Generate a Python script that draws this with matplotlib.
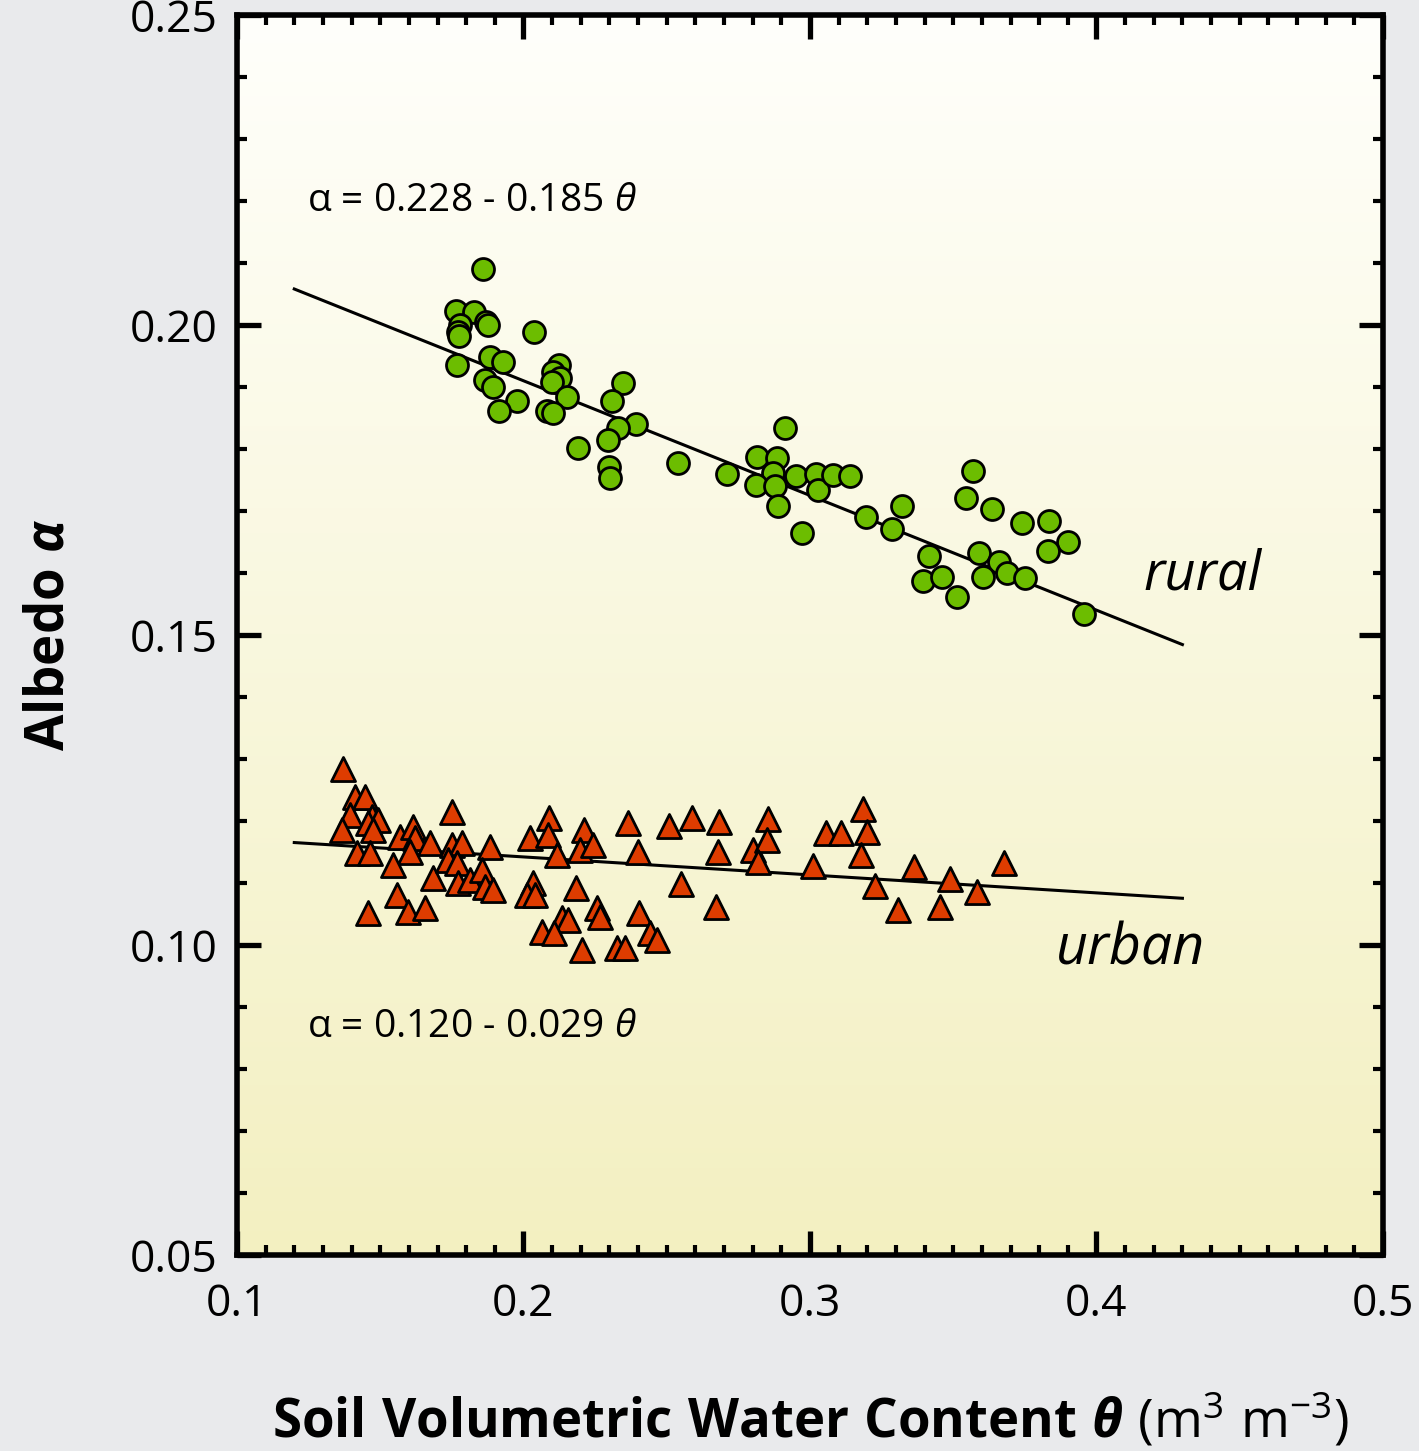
import numpy as np
import matplotlib
matplotlib.use("Agg")
import matplotlib.pyplot as plt
from matplotlib.ticker import MultipleLocator

# soil moisture / albedo pairs
rural_theta = [0.186, 0.1764, 0.1827, 0.1869, 0.1876, 0.1778, 0.1771, 0.1775, 0.2037, 0.1768,
               0.1883, 0.1928, 0.1866, 0.1894, 0.1977, 0.1914, 0.2124, 0.2103, 0.2127, 0.2099,
               0.2152, 0.2082, 0.2103, 0.2347, 0.2309, 0.2393, 0.2330, 0.2295, 0.2190, 0.2298,
               0.2302, 0.2539, 0.2710, 0.2913, 0.2815, 0.2885, 0.2871, 0.2812, 0.2878, 0.2888,
               0.2951, 0.3021, 0.3028, 0.3080, 0.3140, 0.2972, 0.3195, 0.3286, 0.3321, 0.3415,
               0.3569, 0.3545, 0.3635, 0.3740, 0.3834, 0.3590, 0.3660, 0.3688, 0.3750, 0.3604,
               0.3901, 0.3831, 0.3394, 0.3461, 0.3513, 0.3956]
rural_albedo = [0.209, 0.2023, 0.2021, 0.2005, 0.2000, 0.2000, 0.1989, 0.1982, 0.1989, 0.1935,
                0.1948, 0.1940, 0.1911, 0.1900, 0.1877, 0.1861, 0.1935, 0.1924, 0.1915, 0.1908,
                0.1884, 0.1861, 0.1858, 0.1906, 0.1877, 0.1840, 0.1834, 0.1815, 0.1802, 0.1771,
                0.1753, 0.1777, 0.1760, 0.1834, 0.1787, 0.1785, 0.1761, 0.1742, 0.1740, 0.1708,
                0.1756, 0.1760, 0.1734, 0.1758, 0.1756, 0.1665, 0.1690, 0.1671, 0.1708, 0.1627,
                0.1765, 0.1721, 0.1703, 0.1681, 0.1684, 0.1632, 0.1618, 0.1600, 0.1592, 0.1594,
                0.1650, 0.1635, 0.1587, 0.1594, 0.1561, 0.1534]

urban_theta = [0.1370, 0.1412, 0.1447, 0.1394, 0.1471, 0.1492, 0.1366, 0.1457, 0.1475, 0.1750,
               0.1569, 0.1614, 0.1621, 0.1604, 0.1419, 0.1464, 0.1545, 0.1674, 0.1750, 0.1785,
               0.1883, 0.1684, 0.1736, 0.1768, 0.1771, 0.1813, 0.1855, 0.1866, 0.1894, 0.1558,
               0.1457, 0.1597, 0.1656, 0.2089, 0.2023, 0.2086, 0.2117, 0.2211, 0.2197, 0.2243,
               0.2365, 0.2400, 0.2508, 0.2588, 0.2550, 0.2183, 0.2033, 0.2012, 0.2040, 0.2257,
               0.2267, 0.2134, 0.2155, 0.2065, 0.2106, 0.2403, 0.2442, 0.2466, 0.2204, 0.2326,
               0.2354, 0.2682, 0.2679, 0.2672, 0.2853, 0.2801, 0.2850, 0.2818, 0.3011, 0.3056,
               0.3108, 0.3185, 0.3199, 0.3178, 0.3227, 0.3307, 0.3363, 0.3489, 0.3454, 0.3583,
               0.3677]
urban_albedo = [0.1284, 0.1239, 0.1239, 0.1210, 0.1206, 0.1202, 0.1185, 0.1197, 0.1185, 0.1215,
                0.1174, 0.1190, 0.1173, 0.1150, 0.1148, 0.1148, 0.1129, 0.1165, 0.1161, 0.1165,
                0.1158, 0.1108, 0.1137, 0.1132, 0.1100, 0.1105, 0.1121, 0.1094, 0.1089, 0.1081,
                0.1052, 0.1053, 0.1060, 0.1205, 0.1173, 0.1177, 0.1145, 0.1185, 0.1153, 0.1161,
                0.1197, 0.1150, 0.1192, 0.1205, 0.1098, 0.1092, 0.1100, 0.1081, 0.1081, 0.1060,
                0.1045, 0.1044, 0.1040, 0.1021, 0.1019, 0.1052, 0.1019, 0.1008, 0.0992, 0.0995,
                0.0995, 0.1198, 0.1150, 0.1061, 0.1203, 0.1153, 0.1169, 0.1134, 0.1127, 0.1181,
                0.1181, 0.1219, 0.1182, 0.1145, 0.1095, 0.1056, 0.1126, 0.1106, 0.1061, 0.1085,
                0.1132]

# regression lines: alpha = a + b*theta
rural_fit = (0.228, -0.185)
urban_fit = (0.120, -0.029)
fit_range = [0.12, 0.43]

xticks = [0.1, 0.2, 0.3, 0.4, 0.5]
yticks = [0.05, 0.10, 0.15, 0.20, 0.25]

FONT = "Open Sans"
plt.rcParams["font.family"] = [FONT, "DejaVu Sans"]
plt.rcParams["mathtext.fontset"] = "custom"
plt.rcParams["mathtext.rm"] = FONT
plt.rcParams["mathtext.it"] = FONT + ":italic"
plt.rcParams["mathtext.bf"] = FONT + ":bold"
plt.rcParams["mathtext.bfit"] = FONT + ":italic:bold"

fig = plt.figure(figsize=(14.19, 14.51), dpi=100, facecolor="#e9eaec")
ax = fig.add_axes([0.167, 0.1351, 0.8076, 0.8546])

# background gradient inside the plot
grad = np.linspace(0, 1, 256)[:, None]
top = np.array([1.0, 1.0, 0.985])
bottom = np.array([0.953, 0.941, 0.757])
img = top + grad[..., None] * (bottom - top)
ax.imshow(img, extent=[0, 1, 0, 1], transform=ax.transAxes, aspect="auto", zorder=0)

xs = np.array(fit_range)
ax.plot(xs, rural_fit[0] + rural_fit[1] * xs, color="black", lw=2.2, zorder=2)
ax.plot(xs, urban_fit[0] + urban_fit[1] * xs, color="black", lw=2.2, zorder=2)

ax.scatter(rural_theta, rural_albedo, s=250, marker="o", facecolor="#6cbd00",
           edgecolor="black", linewidth=2.0, zorder=3)
ax.scatter(urban_theta, urban_albedo, s=300, marker="^", facecolor="#de3c00",
           edgecolor="black", linewidth=2.0, zorder=3)

ax.set_xlim(0.1, 0.5)
ax.set_ylim(0.05, 0.25)
ax.set_xticks(xticks)
ax.set_xticklabels(["0.1", "0.2", "0.3", "0.4", "0.5"])
ax.set_yticks(yticks)
ax.set_yticklabels(["0.05", "0.10", "0.15", "0.20", "0.25"])
ax.xaxis.set_minor_locator(MultipleLocator(0.01))
ax.yaxis.set_minor_locator(MultipleLocator(0.01))
ax.tick_params(which="both", direction="in", top=True, right=True, labelsize=32)
ax.tick_params(which="major", length=17, width=3.8)
ax.tick_params(which="minor", length=7.5, width=3)
ax.tick_params(axis="x", which="major", pad=20)
ax.tick_params(axis="y", which="major", pad=14)
for sp in ax.spines.values():
    sp.set_linewidth(4)

ax.set_xlabel(r"$\mathbf{Soil\ Volumetric\ Water\ Content}\ \mathbfit{\theta}\ \mathrm{(m^3\ m^{-3})}$",
              fontsize=38, labelpad=46)
ax.set_ylabel(r"$\mathbf{Albedo}\ \mathbfit{\alpha}$", fontsize=38, labelpad=38)

ax.text(0.1244, 0.2200, r"α = 0.228 - 0.185 $\mathit{\theta}$", fontsize=28, va="center")
ax.text(0.1244, 0.0868, r"α = 0.120 - 0.029 $\mathit{\theta}$", fontsize=28, va="center")
ax.text(0.4578, 0.1597, "rural", fontsize=39, style="italic", ha="right", va="center")
ax.text(0.4379, 0.0992, "urban", fontsize=40, style="italic", ha="right", va="center")

fig.savefig("out.png", dpi=100, facecolor=fig.get_facecolor())
